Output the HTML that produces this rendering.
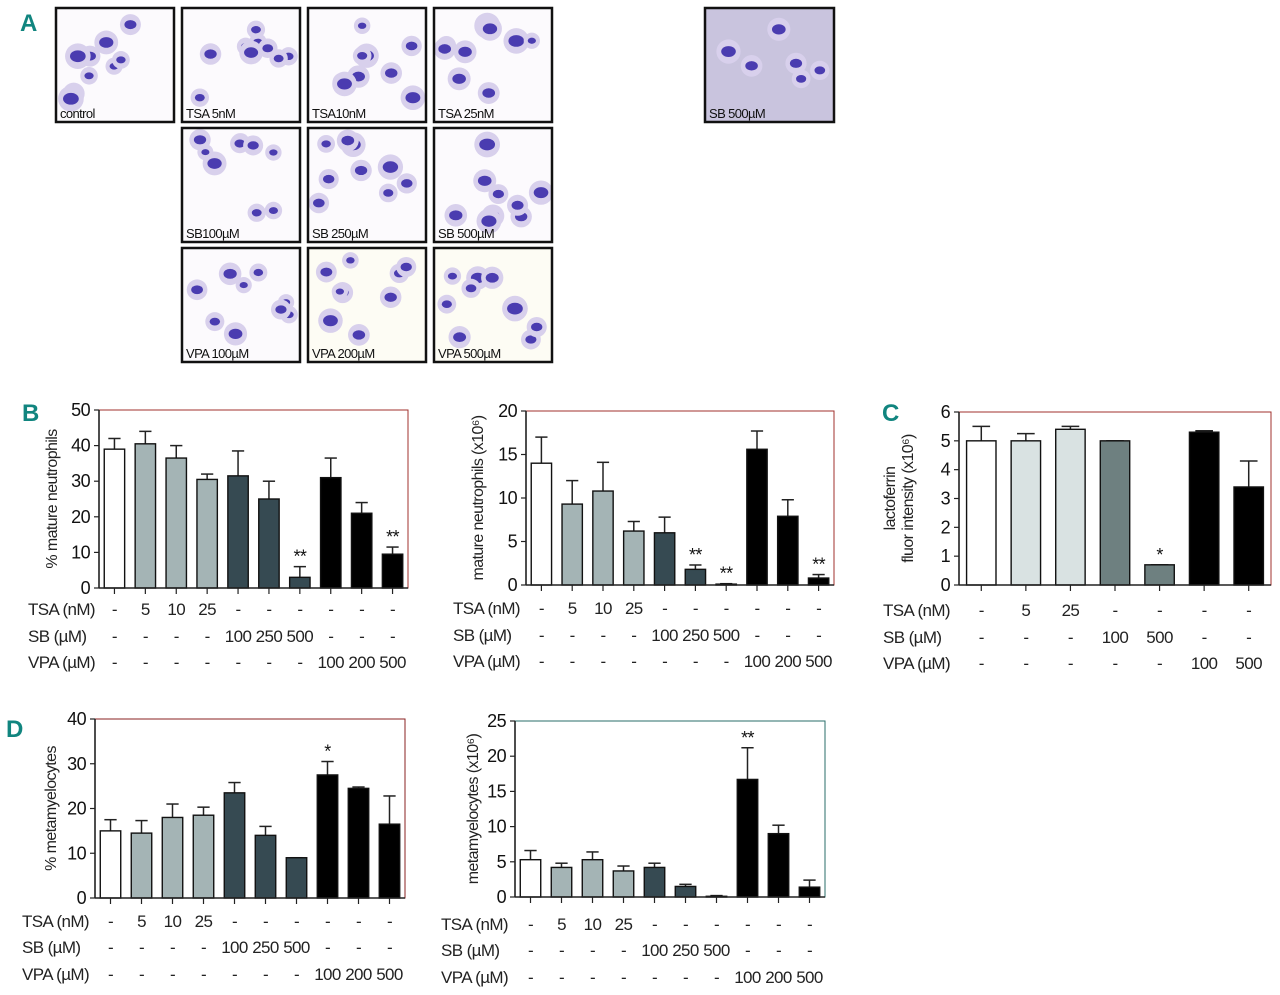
<!DOCTYPE html>
<html><head><meta charset="utf-8">
<style>
html,body{margin:0;padding:0;background:#fff;width:1280px;height:995px;overflow:hidden}
svg{display:block;font-family:"Liberation Sans Narrow","Liberation Sans",sans-serif}
svg text{letter-spacing:-0.6px}
</style></head>
<body>
<svg id="fig" width="1280" height="995" viewBox="0 0 1280 995" xmlns="http://www.w3.org/2000/svg">
<g id="panelA"></g>
<g id="charts"></g>
<text x="20" y="31" font-size="24" font-weight="bold" fill="#11857f">A</text>
<text x="22" y="421" font-size="24" font-weight="bold" fill="#11857f">B</text>
<text x="882" y="421" font-size="24" font-weight="bold" fill="#11857f">C</text>
<text x="6" y="737" font-size="24" font-weight="bold" fill="#11857f">D</text>
</svg>
<script>
// ---------- chart data ----------
const rowNames = ["TSA (nM)", "SB (\u00b5M)", "VPA (\u00b5M)"];
const tsa10 = ["-","5","10","25","-","-","-","-","-","-"];
const sb10  = ["-","-","-","-","100","250","500","-","-","-"];
const vpa10 = ["-","-","-","-","-","-","-","100","200","500"];
const tsa7 = ["-","5","25","-","-","-","-"];
const sb7  = ["-","-","-","100","500","-","-"];
const vpa7 = ["-","-","-","-","-","100","500"];
const groups10 = ["ctl","tsa","tsa","tsa","sb","sb","sb","vpa","vpa","vpa"];
const groups7 = ["ctl","tsa","tsa","sb","sb","vpa","vpa"];

const b1Values = [39, 40.5, 36.5, 30.5, 31.5, 25, 3, 31, 21, 9.5];
const b1ErrTop = [42, 44, 40, 32, 38.5, 30, 6, 36.5, 24, 11.5];
const b1Stars = ["","","","","","","**","","","**"];
const b1Ticks = [0,10,20,30,40,50];

const b2Values = [14, 9.3, 10.8, 6.2, 6, 1.8, 0.1, 15.6, 7.9, 0.8];
const b2ErrTop = [17, 12, 14.1, 7.3, 7.8, 2.3, 0.15, 17.7, 9.8, 1.2];
const b2Stars = ["","","","","","**","**","","","**"];
const b2Ticks = [0,5,10,15,20];

const cValues = [5, 5, 5.4, 5, 0.7, 5.3, 3.4];
const cErrTop = [5.5, 5.25, 5.5, 5, 0.7, 5.35, 4.3];
const cStars = ["","","","","*","",""];
const cTicks = [0,1,2,3,4,5,6];

const d1Values = [15, 14.5, 18, 18.5, 23.5, 14, 9, 27.5, 24.5, 16.5];
const d1ErrTop = [17.5, 17.3, 21, 20.3, 25.8, 16, 9, 30.5, 24.8, 22.8];
const d1Stars = ["","","","","","","","*","",""];
const d1Ticks = [0,10,20,30,40];

const d2Values = [5.3, 4.2, 5.3, 3.7, 4.2, 1.5, 0.1, 16.7, 9, 1.4];
const d2ErrTop = [6.6, 4.8, 6.4, 4.4, 4.8, 1.8, 0.2, 21.2, 10.2, 2.4];
const d2Stars = ["","","","","","","","**","",""];
const d2Ticks = [0,5,10,15,20,25];

const NS = "http://www.w3.org/2000/svg";
function mk(parent, tag, attrs, text){
  const e = document.createElementNS(NS, tag);
  for (const k in attrs) e.setAttribute(k, attrs[k]);
  if (text !== undefined) e.textContent = text;
  parent.appendChild(e);
  return e;
}
const chartsG = document.getElementById("charts");

function drawChart(cfg){
  const g = mk(chartsG, "g", {});
  
  
  const n = cfg.values.length;
  const yMax = cfg.ticks[cfg.ticks.length-1];
  const ys = v => cfg.bottom - (v / yMax) * (cfg.bottom - cfg.top);
  const step = (cfg.right - cfg.left) / n;
  const xs = i => cfg.left + step * (i + 0.5);
  const bw = step * cfg.bwFrac;
  const fr = mk(g, "rect", {x:cfg.left, y:cfg.top, width:cfg.right-cfg.left, height:cfg.bottom-cfg.top, fill:"none", stroke:cfg.frame, "stroke-width":1});
  
  
  for (let i=0;i<n;i++){
    const grp = cfg.groups[i];
    const fill = cfg.colors[grp];
    const x = xs(i) - bw/2, y = ys(cfg.values[i]);
    const et = ys(cfg.err[i]);
    const el = mk(g, "line", {x1:xs(i), x2:xs(i), y1:y, y2:et, stroke:"#222", "stroke-width":1.5});
    
    
    const ec = mk(g, "line", {x1:xs(i)-bw*0.3, x2:xs(i)+bw*0.3, y1:et, y2:et, stroke:"#222", "stroke-width":1.5});
    
    
    const r = mk(g, "rect", {x:x, y:y, width:bw, height:cfg.bottom-y, fill:fill, stroke:"#111", "stroke-width":1.4});
    
    
    if (cfg.stars[i]){
      const s = mk(g, "text", {x:xs(i), y:Math.min(et,y)-4, "font-size":18, "text-anchor":"middle", fill:"#111"}, cfg.stars[i]);
      
      
    }
    const xt = mk(g, "line", {x1:xs(i), x2:xs(i), y1:cfg.bottom, y2:cfg.bottom+6, stroke:"#222", "stroke-width":1.2});
    
    
  }
  const ya = mk(g, "line", {x1:cfg.left, x2:cfg.left, y1:cfg.top, y2:cfg.bottom, stroke:"#222", "stroke-width":1.6});
  
  
  const xa = mk(g, "line", {x1:cfg.left, x2:cfg.right, y1:cfg.bottom, y2:cfg.bottom, stroke:"#222", "stroke-width":1.6});
  
  
  for (const t of cfg.ticks){
    const tl = mk(g, "line", {x1:cfg.left-5, x2:cfg.left, y1:ys(t), y2:ys(t), stroke:"#222", "stroke-width":1.2});
    
    
    const tt = mk(g, "text", {x:cfg.left-9, y:ys(t)+6, "font-size":18, "text-anchor":"end", fill:"#111"}, String(t));
    
    
  }
  const yt = mk(g, "text", {x:0, y:0, "font-size":16, "text-anchor":"middle", fill:"#222",
     transform:`translate(${cfg.titleX},${(cfg.top+cfg.bottom)/2}) rotate(-90)`});
  
  
  cfg.title.forEach((line,k)=>{ mk(yt, "tspan", {x:0, dy: k===0 ? (-(cfg.title.length-1)*9) : 18}, line); });
  cfg.rows.forEach((row, r)=>{
    const y = cfg.rowY[r];
    const lab = mk(g, "text", {x:cfg.rowLabelX, y:y, "font-size":17, fill:"#222"}, rowNames[r]);
    
    
    row.forEach((v,i)=>{
      const t = mk(g, "text", {x:xs(i), y:y, "font-size":17, "text-anchor":"middle", fill:"#222"}, v);
      
      
    });
  });
}

const col10 = {ctl:"#ffffff", tsa:"#a4b4b5", sb:"#364a52", vpa:"#000000"};
const colC = {ctl:"#ffffff", tsa:"#d9e2e2", sb:"#6e8080", vpa:"#000000"};

drawChart({name:"chart-b-percent-mature-neutrophils", values:b1Values, err:b1ErrTop, stars:b1Stars, ticks:b1Ticks,
  groups:groups10, colors:col10, left:99, right:408, top:410, bottom:588, bwFrac:0.66, frame:"#a0302c",
  title:["% mature neutrophils"], titleX:57, rows:[tsa10,sb10,vpa10], rowY:[615,642,668], rowLabelX:28});
drawChart({name:"chart-b-mature-neutrophils-count", values:b2Values, err:b2ErrTop, stars:b2Stars, ticks:b2Ticks,
  groups:groups10, colors:col10, left:526, right:834, top:411, bottom:585, bwFrac:0.66, frame:"#a0302c",
  title:["mature neutrophils (x10\u2076)"], titleX:483, rows:[tsa10,sb10,vpa10], rowY:[614,641,667], rowLabelX:453});
drawChart({name:"chart-c-lactoferrin", values:cValues, err:cErrTop, stars:cStars, ticks:cTicks,
  groups:groups7, colors:colC, left:959, right:1271, top:412, bottom:585, bwFrac:0.66, frame:"#a0302c",
  title:["lactoferrin","fluor intensity (x10\u2076)"], titleX:904, rows:[tsa7,sb7,vpa7], rowY:[616,643,669], rowLabelX:883});
drawChart({name:"chart-d-percent-metamyelocytes", values:d1Values, err:d1ErrTop, stars:d1Stars, ticks:d1Ticks,
  groups:groups10, colors:col10, left:95, right:405, top:719, bottom:898, bwFrac:0.66, frame:"#8a2020",
  title:["% metamyelocytes"], titleX:56, rows:[tsa10,sb10,vpa10], rowY:[927,953,980], rowLabelX:22});
drawChart({name:"chart-d-metamyelocytes-count", values:d2Values, err:d2ErrTop, stars:d2Stars, ticks:d2Ticks,
  groups:groups10, colors:col10, left:515, right:825, top:721, bottom:897, bwFrac:0.66, frame:"#2a6e6a",
  title:["metamyelocytes (x10\u2076)"], titleX:478, rows:[tsa10,sb10,vpa10], rowY:[930,956,983], rowLabelX:441});

// ---------- panel A micrographs (decorative) ----------
const A = document.getElementById("panelA");
const tiles = [
 [56,8,"control"],[182,8,"TSA 5nM"],[308,8,"TSA10nM"],[434,8,"TSA 25nM"],
 [182,128,"SB100\u00b5M"],[308,128,"SB 250\u00b5M"],[434,128,"SB 500\u00b5M"],
 [182,248,"VPA 100\u00b5M"],[308,248,"VPA 200\u00b5M"],[434,248,"VPA 500\u00b5M"],
 [705,8,"SB 500\u00b5M"]];
let seed = 7;
function rnd(){ seed = (seed*9301+49297)%233280; return seed/233280; }
tiles.forEach((t,k)=>{
  const [x,y,label] = t;
  const w = k===10 ? 129 : 118, h = 114;
  const g = mk(A, "g", {});
  
  
  mk(g, "rect", {x:x, y:y, width:w, height:h, fill: k===10 ? "#c9c4de" : (k>=8 ? "#fdfcf4" : "#fcfafd")});
  const nc = k===10 ? 6 : 9;
  for (let c=0;c<nc;c++){
    const cx = x+10+rnd()*(w-20), cy = y+10+rnd()*(h-28), r = 5+rnd()*5;
    mk(g, "circle", {cx:cx, cy:cy, r:r+3, fill:"#d8d0ec"});
    mk(g, "ellipse", {cx:cx, cy:cy, rx:r*0.8, ry:r*0.6, fill:"#4a3cb0"});
  }
  mk(g, "rect", {x:x, y:y, width:w, height:h, fill:"none", stroke:"#111", "stroke-width":2.5});
  const lt = mk(g, "text", {x:x+4, y:y+h-4, "font-size":13, fill:"#111"}, label);
  
  
});
</script>
</body></html>
